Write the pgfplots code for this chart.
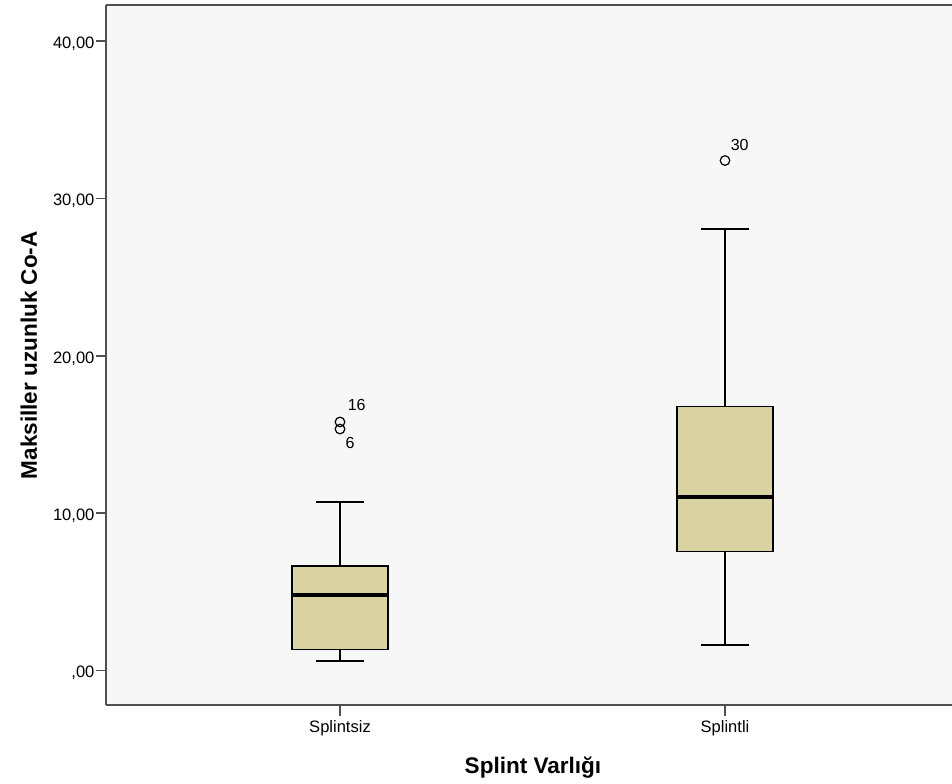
\documentclass[border=0pt]{standalone}
\usepackage{fontspec}
\setmainfont{Liberation Sans}
\usepackage{pgfplots}
\pgfplotsset{compat=1.18}
\usepgfplotslibrary{statistics}
\definecolor{boxfill}{RGB}{216,211,160}
\definecolor{bgcol}{RGB}{247,247,247}
\definecolor{framecol}{RGB}{80,80,80}
\begin{document}
\begin{tikzpicture}
\begin{axis}[
  at={(0,0)}, anchor=south west,
  width=634.5pt, height=525.4pt, scale only axis,
  xmin=-0.6078, xmax=1.5896, ymin=-2.225, ymax=42.31,
  axis x line*=box, axis y line*=left,
  axis line style={framecol, line width=1.5pt, -},
  axis background/.style={fill=bgcol},
  xtick={0,1}, xticklabels={Splintsiz,Splintli},
  ytick={0,10,20,30,40},
  yticklabels={{,00},{10,00},{20,00},{30,00},{40,00}},
  xtick pos=bottom, ytick pos=left,
  tick align=outside, major tick length=7.5pt,
  tick style={framecol, line width=1.2pt},
  ticklabel style={font=\fontsize{12.4}{14}\selectfont},
  yticklabel style={inner sep=1pt, yshift=-2pt},
  xlabel={Splint Varlığı}, ylabel={Maksiller uzunluk Co-A},
  label style={font=\fontsize{16.9}{20}\selectfont\bfseries},
  xlabel style={at={(axis description cs:0.5047,-0.0968)}, anchor=base},
  ylabel style={at={(axis description cs:-0.0816,0.5)}, anchor=base},
  boxplot/draw direction=y,
  boxplot/box extend=0.25,
  boxplot/whisker extend=0.123,
  clip=false,
]
\addplot+[boxplot prepared={draw position=0, lower whisker=0.60, lower quartile=1.35,
    median=4.80, upper quartile=6.64, upper whisker=10.71},
  fill=boxfill, draw=black, line width=1.1pt, solid,
  boxplot/every median/.style={line width=3.6pt, black},
  mark=o, mark size=3.6pt, mark options={black, line width=0.9pt, fill=none}]
  table[row sep=\\, y index=0] {data\\ 15.80\\ 15.35\\};
\addplot+[boxplot prepared={draw position=1, lower whisker=1.63, lower quartile=7.58,
    median=11.01, upper quartile=16.79, upper whisker=28.07},
  fill=boxfill, draw=black, line width=1.1pt, solid,
  boxplot/every median/.style={line width=3.2pt, black},
  mark=o, mark size=3.6pt, mark options={black, line width=0.9pt, fill=none}]
  table[row sep=\\, y index=0] {data\\ 32.42\\};
\node[font=\fontsize{12}{14}\selectfont, anchor=center] at (axis cs:0.0433,16.85) {16};
\node[font=\fontsize{12}{14}\selectfont, anchor=center] at (axis cs:0.026,14.46) {6};
\node[font=\fontsize{12}{14}\selectfont, anchor=center] at (axis cs:1.0382,33.4) {30};
\end{axis}
\pgfresetboundingbox
\useasboundingbox (-79.5pt,-58.875pt) rectangle (634.5pt,529.125pt);
\end{tikzpicture}
\end{document}
